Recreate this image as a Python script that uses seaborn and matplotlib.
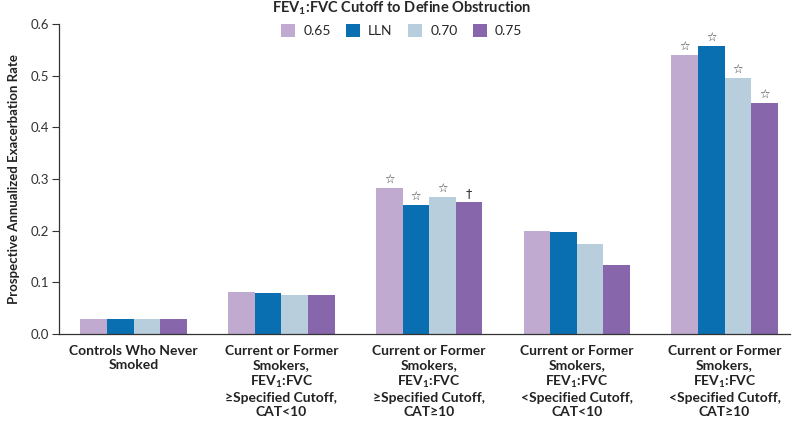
import matplotlib
matplotlib.use("Agg")
import matplotlib.pyplot as plt
import seaborn as sns
import pandas as pd
from matplotlib.patches import Patch

groups = [
    "Controls Who Never\nSmoked",
    "Current or Former\nSmokers,\nFEV$_1$:FVC\n\u2265Specified Cutoff,\nCAT<10",
    "Current or Former\nSmokers,\nFEV$_1$:FVC\n\u2265Specified Cutoff,\nCAT\u226510",
    "Current or Former\nSmokers,\nFEV$_1$:FVC\n<Specified Cutoff,\nCAT<10",
    "Current or Former\nSmokers,\nFEV$_1$:FVC\n<Specified Cutoff,\nCAT\u226510",
]
cutoffs = ["0.65", "LLN", "0.70", "0.75"]
rate_065 = [0.030, 0.082, 0.283, 0.199, 0.541]
rate_lln = [0.030, 0.079, 0.250, 0.197, 0.557]
rate_070 = [0.030, 0.076, 0.265, 0.175, 0.496]
rate_075 = [0.030, 0.075, 0.255, 0.134, 0.448]
marks_065 = ["", "", "\u2606", "", "\u2606"]
marks_lln = ["", "", "\u2606", "", "\u2606"]
marks_070 = ["", "", "\u2606", "", "\u2606"]
marks_075 = ["", "", "\u2020", "", "\u2606"]

colors = ["#c0aad0", "#0a6fb0", "#b9cedc", "#8866ab"]

rows = []
for c, vals, mk in zip(cutoffs, [rate_065, rate_lln, rate_070, rate_075],
                       [marks_065, marks_lln, marks_070, marks_075]):
    for g, v, m in zip(groups, vals, mk):
        rows.append({"group": g, "cutoff": c, "rate": v, "mark": m})
df = pd.DataFrame(rows)

sns.set_style("ticks")
plt.rcParams["font.family"] = ["Lato", "DejaVu Sans"]
plt.rcParams["mathtext.default"] = "regular"

fig = plt.figure(figsize=(8, 4.22), dpi=100)
ax = fig.add_axes([0.074, 0.2085, 0.9135, 0.7345])

sns.barplot(data=df, x="group", y="rate", hue="cutoff", order=groups,
            hue_order=cutoffs, palette=colors, saturation=1, width=0.72,
            gap=0, errorbar=None, legend=False, ax=ax, edgecolor="none")

# significance marks
for ci, (c, mk) in enumerate(zip(cutoffs, [marks_065, marks_lln, marks_070, marks_075])):
    cont = ax.containers[ci]
    for bar, m in zip(cont, mk):
        if m:
            ax.text(bar.get_x() + bar.get_width() / 2, bar.get_height() + 0.004, m,
                    ha="center", va="bottom", fontsize=8.5 if m == "\u2606" else 9,
                    color="#333333", family=["DejaVu Sans"])

ax.set_ylim(0, 0.6)
ax.set_xlim(-0.504, 4.443)
ax.set_yticks([0, 0.1, 0.2, 0.3, 0.4, 0.5, 0.6])
ax.set_yticklabels(["0.0", "0.1", "0.2", "0.3", "0.4", "0.5", "0.6"])
ax.tick_params(axis="y", direction="out", length=5, width=0.8, colors="#333333",
               labelsize=9.5, pad=2)
ax.tick_params(axis="x", length=0, pad=8)
for lbl in ax.get_xticklabels():
    lbl.set_fontweight("bold")
    lbl.set_fontsize(10)
    lbl.set_color("#222222")
    lbl.set_linespacing(1.2)
ax.set_xlabel("")
ax.set_ylabel("Prospective Annualized Exacerbation Rate", fontsize=9.5,
              fontweight="bold", color="#222222", labelpad=8)
for s in ["top", "right"]:
    ax.spines[s].set_visible(False)
for s in ["left", "bottom"]:
    ax.spines[s].set_color("#333333")
    ax.spines[s].set_linewidth(0.9)

handles = [Patch(facecolor=col, edgecolor="none") for col in colors]
leg = fig.legend(handles, cutoffs, loc="upper center", bbox_to_anchor=(0.502, 1.03),
                 ncol=4, frameon=False, handlelength=1.0, handleheight=1.0,
                 columnspacing=1.1, handletextpad=0.6, fontsize=10,
                 title="FEV$_1$:FVC Cutoff to Define Obstruction",
                 title_fontproperties={"weight": "bold", "size": 10.5})

fig.savefig("out.png", dpi=100)
